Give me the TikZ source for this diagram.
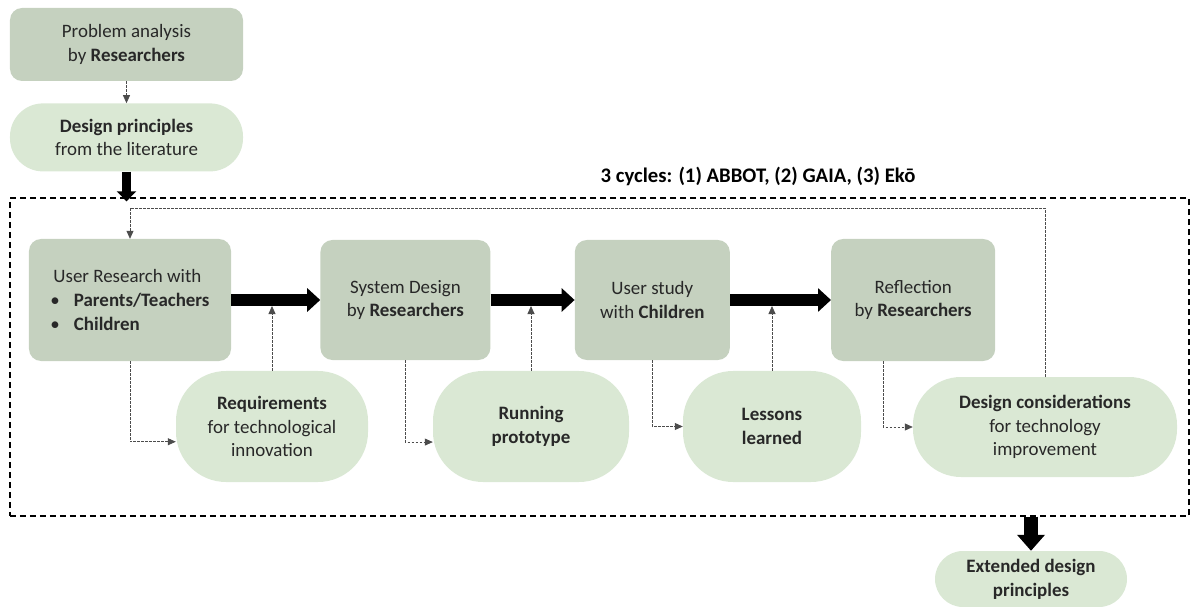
\documentclass[tikz,border=0pt]{standalone}
\usepackage{fontspec}
\setmainfont{Carlito}
\usetikzlibrary{arrows.meta,positioning}
\definecolor{stepgreen}{RGB}{197,209,191}
\definecolor{outgreen}{RGB}{218,232,212}
\definecolor{txt}{RGB}{40,40,40}

\begin{document}
\begin{tikzpicture}[x=1bp, y=-1bp,
    every node/.style={font=\fontsize{19}{23.8}\selectfont, text=txt},
    box/.style={rectangle, fill=stepgreen, rounded corners=12bp, inner sep=0pt, align=center},
    pill/.style={rectangle, fill=outgreen, rounded corners=#1, inner sep=0pt, align=center},
    pill/.default=50bp,
    dots/.style={draw=black!70, line width=0.8bp, dash pattern=on 2.5bp off 1.5bp, -{Triangle[length=8bp,width=7bp]}},
    flow/.style={draw=black, line width=12bp, -{Triangle[length=13bp,width=23bp]}}]

    \useasboundingbox (0,0) rectangle (1190,607);

    % before the cycles
    \node[box, minimum width=233bp, minimum height=73bp] (prob) at (126.5,44.5) {Problem analysis\\by \textbf{Researchers}};
    \node[pill=33bp, minimum width=233bp, minimum height=68bp, below=22bp of prob] (lit) {\textbf{Design principles}\\from the literature};

    % frame around the three cycles
    \node[draw, dash pattern=on 6bp off 4bp, line width=1.3bp, minimum width=1179bp, minimum height=318bp, inner sep=0pt] (frame) at (599.5,357) {};
    \node[font=\fontsize{20.8}{25}\selectfont\bfseries, text=black] (cycles) at (758,176) {3 cycles: (1) ABBOT, (2) GAIA, (3) Ekō};

    % steps of one cycle
    \node[box, minimum width=202bp, minimum height=122bp, align=left] (research) at (130,300) {\hspace*{3bp}User Research with\\\textbullet\hspace{14bp}\textbf{Parents/Teachers}\\\textbullet\hspace{14bp}\textbf{Children}};
    \node[box, minimum width=170bp, minimum height=120bp, right=89bp of research] (sysdesign) {System Design\\by \textbf{Researchers}};
    \node[box, minimum width=155bp, minimum height=120bp, right=84bp of sysdesign] (study) {User study\\with \textbf{Children}};
    \node[box, minimum width=164bp, minimum height=122bp, right=101bp of study] (reflect) {Reflection\\by \textbf{Researchers}};

    % outcomes
    \node[pill, minimum width=192bp, minimum height=111bp] (req) at (272,426.5) {\textbf{Requirements}\\for technological\\innovation};
    \node[pill, minimum width=196bp, minimum height=111bp] (proto) at (531,426.5) {\textbf{Running}\\\textbf{prototype}};
    \node[pill, minimum width=178bp, minimum height=111bp] (lessons) at (772,426.5) {\textbf{Lessons}\\\textbf{learned}};
    \node[pill=48bp, minimum width=264bp, minimum height=100bp] (consid) at (1045,427) {\textbf{Design considerations}\\for technology\\improvement};
    \node[pill=28bp, minimum width=192bp, minimum height=56bp] (ext) at (1031,579) {\textbf{Extended design}\\\textbf{principles}};

    \coordinate (back) at (130,208);

    \draw[dots] (prob) -- (lit);
    \draw[draw=black, line width=9bp, -{Triangle[length=10bp,width=19bp]}, shorten >=-4bp] (lit) -- (lit |- frame.north);

    \draw[flow] (research) -- (sysdesign);
    \draw[flow] (sysdesign) -- (study);
    \draw[flow] (study) -- (reflect);

    \draw[dots] (research) |- (req.189);
    \draw[dots, shorten >=6bp] (req) -- (req |- research.east);
    \draw[dots] (sysdesign) |- (proto.189);
    \draw[dots, shorten >=6bp] (proto) -- (proto |- sysdesign.east);
    \draw[dots] (study) |- (lessons);
    \draw[dots, shorten >=6bp] (lessons) -- (lessons |- study.east);
    \draw[dots] (reflect.244) |- (consid);

    % back to the start of the next cycle
    \draw[dots] (consid) |- (back) -- (research);

    \draw[draw=black, line width=14bp, -{Triangle[length=16bp,width=27bp]}] (ext.north |- frame.south) -- (ext);
\end{tikzpicture}
\end{document}
